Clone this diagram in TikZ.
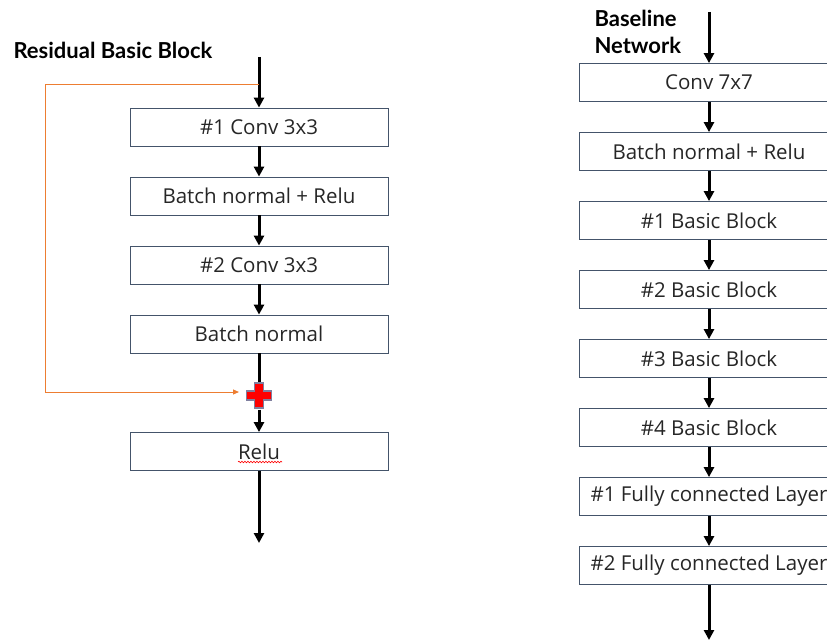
\documentclass[tikz,border=0pt]{standalone}
\usepackage{fontspec}
\setmainfont{Open Sans}
\newfontfamily\headfont{Lato}
\usetikzlibrary{arrows.meta, positioning, decorations.pathmorphing}

\definecolor{boxline}{HTML}{44546A}
\definecolor{skipline}{HTML}{ED7D31}
\definecolor{plusline}{HTML}{7F7F9F}
\definecolor{labeltext}{HTML}{262626}

\begin{document}
\begin{tikzpicture}[
    x=1pt, y=-1pt,
    ->,
    >={Triangle[length=10pt, width=10pt]},
    line width=3pt,
    node distance=69pt,
    on grid,
    layer/.style={rectangle, draw=boxline, line width=0.8pt, inner sep=0pt,
        minimum height=38pt, text=labeltext, font=\fontsize{20.5}{22}\selectfont},
    leftlayer/.style={layer, minimum width=258pt},
    rightlayer/.style={layer, minimum width=260pt},
    head/.style={font=\headfont\bfseries\fontsize{22}{27}\selectfont, align=left, inner sep=0pt},
]
    \useasboundingbox (0,0) rectangle (827,644);

    % residual basic block
    \node[head, anchor=west] (restitle) at (12,50) {Residual Basic Block};

    \coordinate (resin)  at (259,57);
    \coordinate (split)  at (259,85);
    \coordinate (resout) at (259,543);

    \node[leftlayer] (L1) at (259,127) {\#1 Conv 3x3};
    \node[leftlayer, below=of L1] (L2) {Batch normal + Relu};
    \node[leftlayer, below=of L2] (L3) {\#2 Conv 3x3};
    \node[leftlayer, below=of L3] (L4) {Batch normal};
    \node[rectangle, minimum size=25pt, inner sep=0pt] (plus) at (259,395.5) {};
    \node[leftlayer, below=117.5pt of L4] (L5) {Relu};

    \path
        (resin) edge (L1)
        (L1) edge (L2)
        (L2) edge (L3)
        (L3) edge (L4)
        (L4) edge [-] (plus)
        (plus) edge (L5)
        (L5) edge (resout)
    ;

    % shortcut
    \draw[skipline, line width=1pt, >={Triangle[length=6pt, width=5pt]}]
        (split) -- ++(-214,0) |- ([shift={(-6,-3.5)}]plus.west);

    \fill[red, draw=plusline, line width=1.5pt]
        (plus.center) +(-4.5,-12.5) -- +(4.5,-12.5) -- +(4.5,-4.5) -- +(12.5,-4.5)
        -- +(12.5,4.5) -- +(4.5,4.5) -- +(4.5,12.5) -- +(-4.5,12.5)
        -- +(-4.5,4.5) -- +(-12.5,4.5) -- +(-12.5,-4.5) -- +(-4.5,-4.5) -- cycle;

    \draw[-, red, line width=0.6pt, decorate,
          decoration={snake, amplitude=0.8pt, segment length=3pt}]
        ([shift={(-21,10.5)}]L5.center) -- ([shift={(23,10.5)}]L5.center);

    % baseline network
    \node[head, anchor=north west] (basetitle) at (593,9) {Baseline\\Network};

    \coordinate (basein)  at (709,12);
    \coordinate (baseout) at (709,640);

    \node[rightlayer] (R1) at (709,82.5) {Conv 7x7};
    \node[rightlayer, below=of R1] (R2) {Batch normal + Relu};
    \node[rightlayer, below=of R2] (R3) {\#1 Basic Block};
    \node[rightlayer, below=of R3] (R4) {\#2 Basic Block};
    \node[rightlayer, below=of R4] (R5) {\#3 Basic Block};
    \node[rightlayer, below=of R5] (R6) {\#4 Basic Block};
    \node[rightlayer, below=of R6] (R7) {\#1 Fully connected Layer};
    \node[rightlayer, below=of R7] (R8) {\#2 Fully connected Layer};

    \path
        (basein) edge (R1)
        (R1) edge (R2)
        (R2) edge (R3)
        (R3) edge (R4)
        (R4) edge (R5)
        (R5) edge (R6)
        (R6) edge (R7)
        (R7) edge (R8)
        (R8) edge (baseout)
    ;
\end{tikzpicture}
\end{document}
